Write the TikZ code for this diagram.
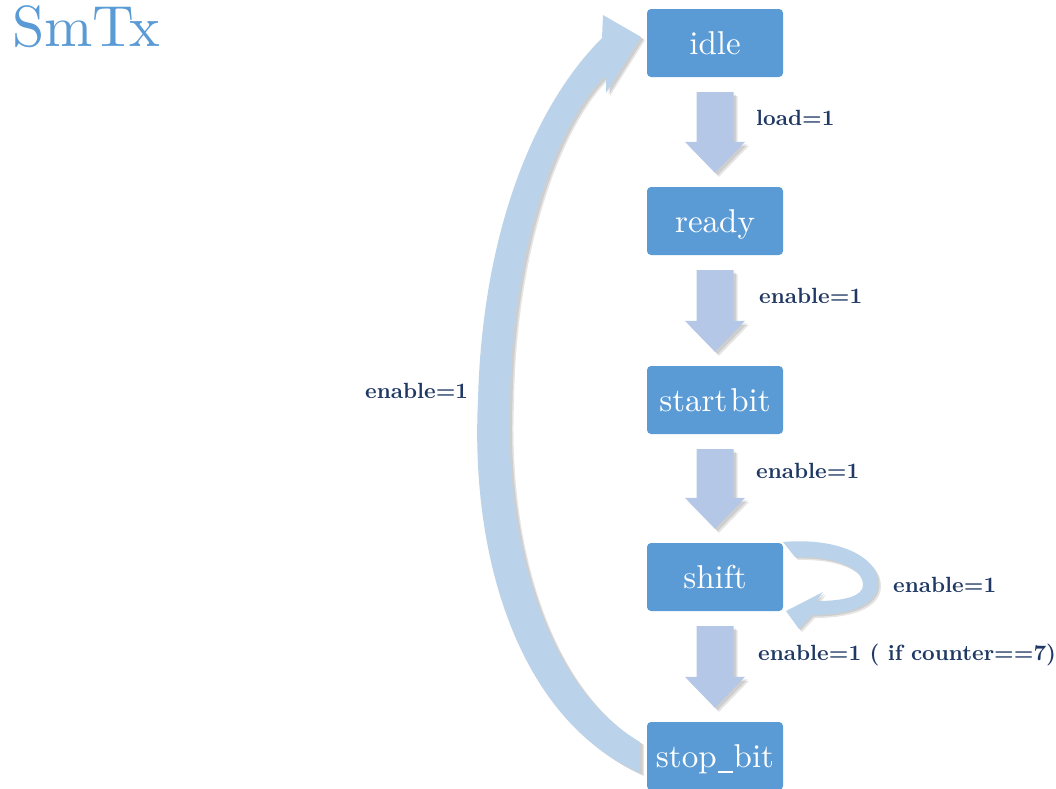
\documentclass[tikz,border=0pt]{standalone}
\usepackage{fontspec}
\setmainfont{lmroman10-regular}[Extension=.otf, BoldFont=lmroman10-bold]
\usetikzlibrary{calc}

\definecolor{boxblue}{HTML}{5B9BD5}
\definecolor{flowblue}{HTML}{B4C7E7}
\definecolor{loopblue}{HTML}{BAD3EA}
\definecolor{labelnavy}{HTML}{1F3864}
\definecolor{titleblue}{HTML}{5B9BD5}

\tikzset{
  state/.style={rounded corners=4pt, fill=boxblue, minimum width=136pt,
    minimum height=68pt, inner sep=0pt, text=white,
    font=\fontsize{33}{33}\selectfont, text height=28pt, text depth=5pt},
  cond/.style={anchor=base west, inner sep=0pt, text=labelnavy,
    font=\bfseries\fontsize{22}{22}\selectfont},
  flow/.style={fill=flowblue},
  loopband/.style={fill=loopblue},
  drop/.style={fill=black, opacity=0.10},
}

% a short underscore for the state names
\newcommand\lowbar{\kern1pt\rule[-5pt]{15pt}{1.6pt}\kern1pt}

% outline of a straight block arrow between the coordinates ftop and ftip,
% displaced by #1 (used for the soft shadow)
\newcommand\flowshape[1]{%
  ($(ftop)+(-18.5+#1,#1)$) -- ($(ftop)+(18.5+#1,#1)$) --
  ($(ftip)+(18.5+#1,-31+#1)$) -- ($(ftip)+(30+#1,-31+#1)$) --
  ($(ftip)+(#1,#1)$) -- ($(ftip)+(-30+#1,-31+#1)$) --
  ($(ftip)+(-18.5+#1,-31+#1)$) -- cycle}

% block arrow from the bottom of state #1 to the top of state #2
\newcommand\stepflow[2]{%
  \path ($(#1.south)+(0,15)$) coordinate (ftop)
        ($(#2.north)+(0,-14)$) coordinate (ftip);
  \fill[drop] \flowshape{4};
  \fill[drop] \flowshape{2.5};
  \fill[flow] \flowshape{0};
}

% the long return band from stop_bit back to idle
\def\backband{(640,773) .. controls (520,720) and (470,560) .. (478,400)
  .. controls (482,240) and (530,110) .. (602,38)
  -- (603,15) -- (641,37) -- (606,93) -- (606,75)
  .. controls (555,125) and (512,250) .. (510,400)
  .. controls (504,550) and (550,690) .. (640,742) -- cycle}

% the self loop on shift
\def\selfband{(783,542) .. controls (840,537) and (880,558) .. (878,585)
  .. controls (876,606) and (848,615) .. (812,615)
  -- (799,629) -- (786,611) -- (823,592) -- (816,601)
  .. controls (845,601) and (863,596) .. (863,585)
  .. controls (863,568) and (835,556) .. (795,557) -- cycle}

\begin{document}
\begin{tikzpicture}[x=1pt, y=-1pt]
  \useasboundingbox (0,0) rectangle (1056,788);

  % title
  \node[anchor=base west, inner sep=0pt, text=titleblue,
        font=\fontsize{58}{58}\selectfont] (title) at (12,46) {SmTx};

  % curved transitions
  \fill[drop, shift={(4,3)}] \backband;
  \fill[drop, shift={(2.5,2)}] \backband;
  \fill[loopband] \backband;
  \fill[drop, shift={(3,3)}] \selfband;
  \fill[drop, shift={(1.5,1.5)}] \selfband;
  \fill[loopband] \selfband;

  % states
  \node[state] (idle)    at (715,43)  {idle};
  \node[state] (ready)   at (715,221) {ready};
  \node[state] (start)   at (715,400) {start\kern3pt bit};
  \node[state] (shiftst) at (715,577) {shift};
  \node[state] (stop)    at (715,756) {stop\lowbar bit};

  % straight transitions
  \stepflow{idle}{ready}
  \stepflow{ready}{start}
  \stepflow{start}{shiftst}
  \stepflow{shiftst}{stop}

  % transition conditions
  \node[cond] (c1) at (756,125) {load=1};
  \node[cond] (c2) at (759,303) {enable=1};
  \node[cond] (c3) at (756,478) {enable=1};
  \node[cond] (c4) at (893,592) {enable=1};
  \node[cond] (c5) at (758,660) {enable=1 ( if counter==7)};
  \node[cond] (c6) at (365,398) {enable=1};
\end{tikzpicture}
\end{document}
